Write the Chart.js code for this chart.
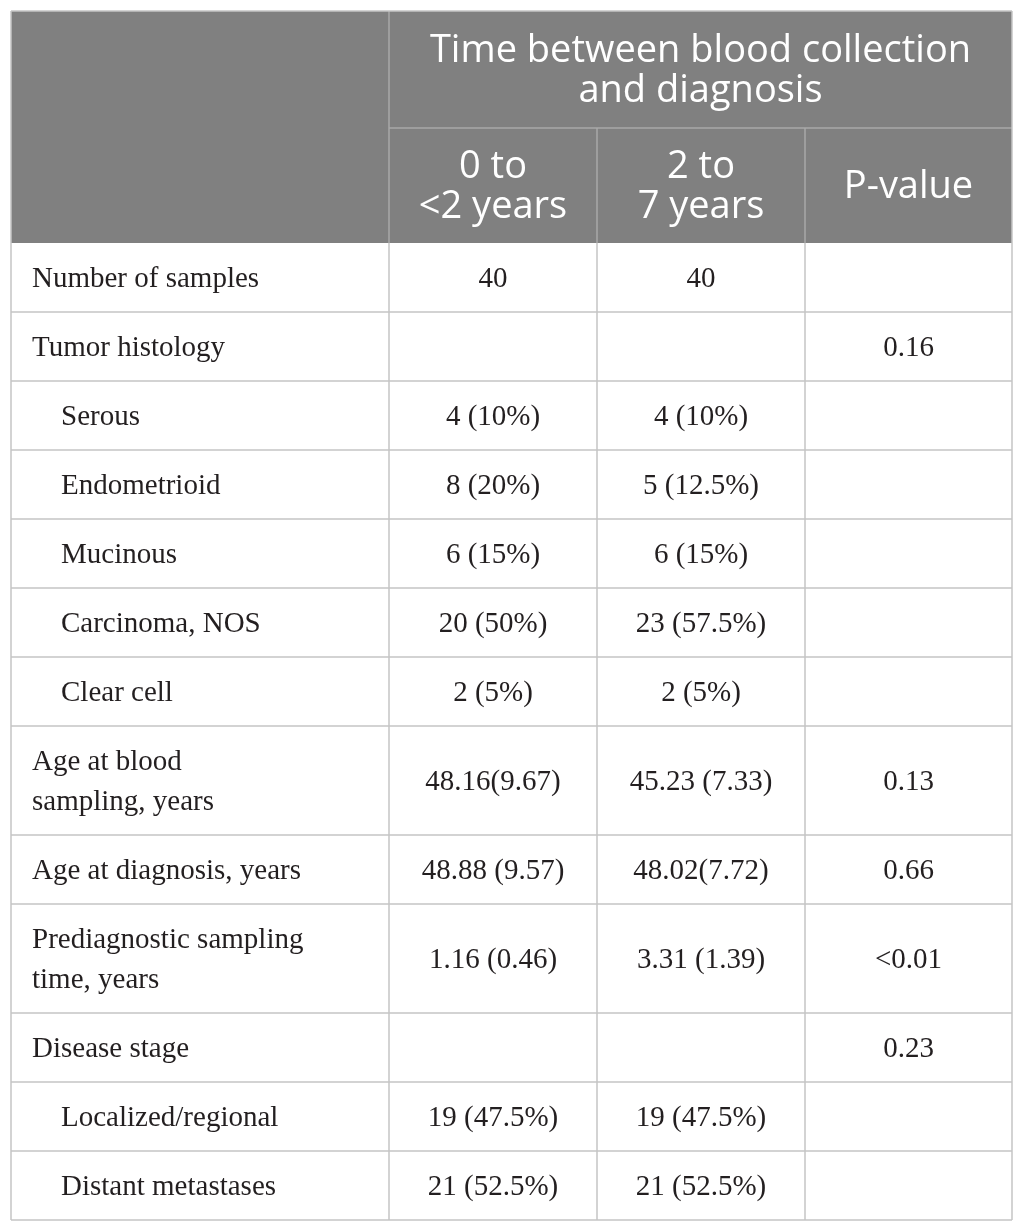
<!DOCTYPE html>
<html>
<head>
<meta charset="utf-8">
<script src="https://cdn.jsdelivr.net/npm/chart.js@4.4.0/dist/chart.umd.min.js"></script>
<style>
  html, body { margin: 0; padding: 0; background: #fff; }
  #wrap { width: 1025px; height: 1232px; }
</style>
</head>
<body>
<div id="wrap"><canvas id="tbl"></canvas></div>
<script>
// =========================
// DATA
// =========================
const groupTitle = ['Time between blood collection', 'and diagnosis'];
const columnHeads = [['0 to', '<2 years'], ['2 to', '7 years'], ['P-value']];

const rowLabels = [
    ['Number of samples'],
    ['Tumor histology'],
    ['Serous'],
    ['Endometrioid'],
    ['Mucinous'],
    ['Carcinoma, NOS'],
    ['Clear cell'],
    ['Age at blood', 'sampling, years'],
    ['Age at diagnosis, years'],
    ['Prediagnostic sampling', 'time, years'],
    ['Disease stage'],
    ['Localized/regional'],
    ['Distant metastases']
];
const subRows = [false, false, true, true, true, true, true, false, false, false, false, true, true];

const earlyGroup = ['40', '', '4 (10%)', '8 (20%)', '6 (15%)', '20 (50%)', '2 (5%)',
    '48.16(9.67)', '48.88 (9.57)', '1.16 (0.46)', '', '19 (47.5%)', '21 (52.5%)'];
const lateGroup = ['40', '', '4 (10%)', '5 (12.5%)', '6 (15%)', '23 (57.5%)', '2 (5%)',
    '45.23 (7.33)', '48.02(7.72)', '3.31 (1.39)', '', '19 (47.5%)', '21 (52.5%)'];
const pValues = ['', '0.16', '', '', '', '', '', '0.13', '0.66', '<0.01', '0.23', '', ''];

// =========================
// LAYOUT
// =========================
const colEdges = [11, 389, 597, 805, 1012];
const headTop = 11, headMid = 128, headBottom = 243;
const rowBase = 69, lineStep = 40;

const headFont = '38px "Open Sans"';
const headLine = 40, headShift = 12.3;
const bodyFont = '29px "Liberation Serif"';
const bodyShift = 9.5;

// =========================
// TABLE PLUGIN
// =========================
const tablePlugin = {
    id: 'tablePlugin',
    afterDraw(chart) {
        const ctx = chart.ctx;
        const xs = chart.scales.x, ys = chart.scales.y;
        const X = v => xs.getPixelForValue(v);
        const Y = v => ys.getPixelForValue(v);

        function line(x1, y1, x2, y2, color) {
            ctx.strokeStyle = color;
            ctx.lineWidth = 1.5;
            ctx.beginPath();
            ctx.moveTo(X(x1), Y(y1));
            ctx.lineTo(X(x2), Y(y2));
            ctx.stroke();
        }

        function lines(texts, cx, cy, step, shift) {
            texts.forEach((t, i) => {
                const y = cy + (i - (texts.length - 1) / 2) * step + shift;
                ctx.fillText(t, X(cx), Y(y));
            });
        }

        ctx.save();

        // header block
        ctx.fillStyle = '#808080';
        ctx.fillRect(X(colEdges[0]), Y(headTop), X(colEdges[4]) - X(colEdges[0]), Y(headBottom) - Y(headTop));

        const headGrid = '#a8a8a8';
        line(colEdges[1], headMid, colEdges[4], headMid, headGrid);
        line(colEdges[1], headTop, colEdges[1], headBottom, headGrid);
        line(colEdges[2], headMid, colEdges[2], headBottom, headGrid);
        line(colEdges[3], headMid, colEdges[3], headBottom, headGrid);

        ctx.fillStyle = '#ffffff';
        ctx.font = headFont;
        ctx.textAlign = 'center';
        ctx.textBaseline = 'alphabetic';
        lines(groupTitle, (colEdges[1] + colEdges[4]) / 2, (headTop + headMid) / 2, headLine, headShift);
        columnHeads.forEach((h, i) => {
            lines(h, (colEdges[i + 1] + colEdges[i + 2]) / 2, (headMid + headBottom) / 2, headLine, headShift);
        });

        // body rows
        const bodyGrid = '#c4c4c4';
        ctx.font = bodyFont;
        ctx.fillStyle = '#231f20';
        let top = headBottom;
        rowLabels.forEach((label, r) => {
            const h = rowBase + lineStep * (label.length - 1);
            const cy = top + h / 2;

            ctx.textAlign = 'left';
            lines(label, subRows[r] ? 61 : 32, cy, lineStep, bodyShift);

            ctx.textAlign = 'center';
            [earlyGroup[r], lateGroup[r], pValues[r]].forEach((v, c) => {
                if (v) lines([v], (colEdges[c + 1] + colEdges[c + 2]) / 2, cy, lineStep, bodyShift);
            });

            top += h;
            line(colEdges[0], top, colEdges[4], top, bodyGrid);
        });

        // body verticals and outer frame
        colEdges.forEach(x => line(x, headBottom, x, top, bodyGrid));
        line(colEdges[0], headTop, colEdges[4], headTop, bodyGrid);
        line(colEdges[0], headTop, colEdges[0], headBottom, bodyGrid);
        line(colEdges[4], headTop, colEdges[4], headBottom, bodyGrid);

        ctx.restore();
    }
};

// =========================
// CHART INIT
// =========================
new Chart(document.getElementById('tbl'), {
    type: 'scatter',
    data: { datasets: [{ data: [] }] },
    options: {
        animation: false,
        responsive: true,
        maintainAspectRatio: false,
        layout: { padding: 0 },
        plugins: { legend: { display: false }, tooltip: { enabled: false } },
        scales: {
            x: { type: 'linear', min: 0, max: 1025, display: false },
            y: { type: 'linear', min: 0, max: 1232, reverse: true, display: false }
        }
    },
    plugins: [tablePlugin]
});
</script>
</body>
</html>
